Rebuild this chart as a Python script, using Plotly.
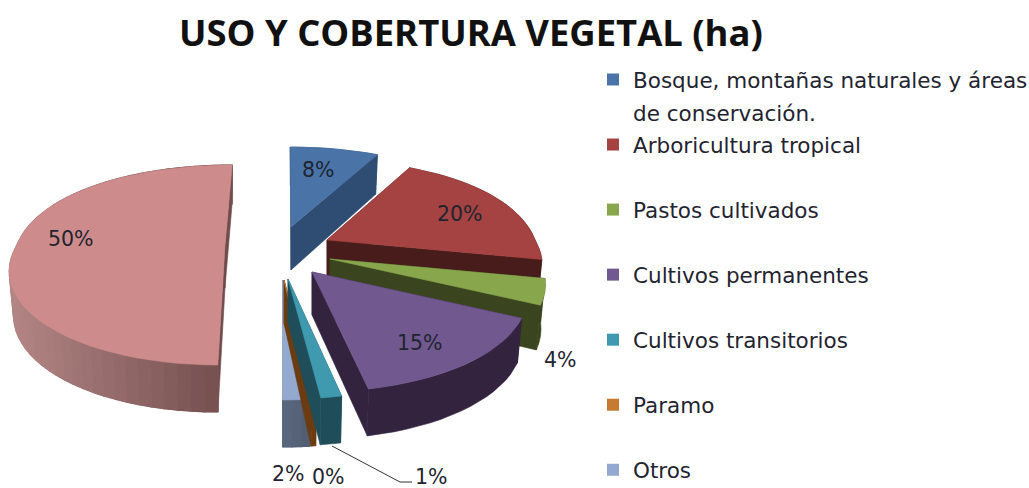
import math
import plotly.graph_objects as go

TITLE = "USO Y COBERTURA VEGETAL (ha)"
CATEGORIES = ["Bosque, montañas naturales y áreas", "Arboricultura tropical", "Pastos cultivados",
              "Cultivos permanentes", "Cultivos transitorios", "Paramo", "Otros"]
LEGEND_SECOND_LINE = "de conservación."
VALUES = [8.0, 20.0, 4.0, 14.7, 1.3, 0.3, 1.7]
UNLISTED_VALUE = 50.0

TOP_COLORS = ["#4a74a8", "#a54342", "#88a74c", "#71588f", "#3f9ab0", "#c77b30", "#93a9cf", "#cd8c8b"]
SIDE_LEFT = ["#2f4d73", "#481c1a", "#3a451f", "#33233f", "#1f4d5a", "#6b3c12", "#5a6880", "#b38685"]
SIDE_RIGHT = ["#2f4d73", "#481c1a", "#3a451f", "#33233f", "#1f4d5a", "#6b3c12", "#515c70", "#714c4c"]

# layout of the exploded slices (page pixels)
APEX = [(291, 227), (327, 240), (330, 259), (312, 272), (288, 279), (284, 280), (283, 280), (225, 245)]
LABEL_POS = [(318, 170), (460, 214), (560, 360), (420, 343), (431, 477), (328, 477), (288, 474), (71, 239)]
RX, RY, K, KX, VANISH_X = 208.0, 100.0, 0.2, 0.12, 285.0
K_FRONT, K_BACK = 0.25, 0.15

all_values = VALUES + [UNLISTED_VALUE]
total = sum(all_values)


def mix(a, b, t):
    ca = [int(a[i:i + 2], 16) for i in (1, 3, 5)]
    cb = [int(b[i:i + 2], 16) for i in (1, 3, 5)]
    return "#%02x%02x%02x" % tuple(round(p + (q - p) * t) for p, q in zip(ca, cb))


def pt(apex, theta, r=1.0, low=False):
    yw = -math.cos(theta) * r
    kx = K_FRONT if yw > 0 else K_BACK
    dx = RX * math.sin(theta) * r * (1 + kx * yw) + (apex[0] - VANISH_X) * KX * yw
    dy = RY * yw * (1 + K * yw)
    if low:
        return apex[0] + dx * 0.98, apex[1] + dy + 43 + 4 * yw
    return apex[0] + dx, apex[1] + dy


fig = go.Figure()


def poly(points, color, width=0.6):
    fig.add_trace(go.Scatter(x=[p[0] for p in points] + [points[0][0]],
                             y=[p[1] for p in points] + [points[0][1]],
                             mode="lines", fill="toself", fillcolor=color,
                             line=dict(color=color, width=width),
                             showlegend=False, hoverinfo="skip"))


bounds = []
acc = 0.0
for v in all_values:
    bounds.append((acc / total * 2 * math.pi, (acc + v) / total * 2 * math.pi))
    acc += v

# painter's order: big slice, then back to front
for i in [7, 0, 1, 2, 6, 5, 4, 3]:
    a0, a1 = bounds[i]
    apex = APEX[i]
    n = max(3, int((a1 - a0) / math.radians(3)))
    angles = [a0 + (a1 - a0) * j / n for j in range(n + 1)]
    # cut faces
    for a in (a0, a1):
        poly([pt(apex, a, 0), pt(apex, a), pt(apex, a, low=True), pt(apex, a, 0, low=True)],
             SIDE_LEFT[i] if i != 7 else SIDE_RIGHT[i])
    # outer rim: a single band, then left-to-right shading where the colour varies
    top_pts = [pt(apex, a) for a in angles]
    low_pts = [pt(apex, a, low=True) for a in angles]
    poly(top_pts + low_pts[::-1], mix(SIDE_LEFT[i], SIDE_RIGHT[i], 0.5))
    if SIDE_LEFT[i] != SIDE_RIGHT[i]:
        xmin = min(p[0] for p in top_pts)
        xmax = max(p[0] for p in top_pts)
        for j in range(n):
            t = ((top_pts[j][0] + top_pts[j + 1][0]) / 2 - xmin) / max(xmax - xmin, 1)
            c = mix(SIDE_LEFT[i], SIDE_RIGHT[i], t)
            poly([top_pts[j], top_pts[j + 1], low_pts[j + 1], low_pts[j]], c, width=1.2)
    # top surface
    poly([pt(apex, 0, 0)] + top_pts, TOP_COLORS[i])

# leader line of the 1% label
fig.add_trace(go.Scatter(x=[332, 400, 412], y=[446, 482, 482], mode="lines",
                         line=dict(color="#333333", width=1), showlegend=False, hoverinfo="skip"))

# legend entries
for i, name in enumerate(CATEGORIES):
    fig.add_trace(go.Scatter(x=[None], y=[None], mode="markers", name=name, legendgroup=f"g{i}",
                             marker=dict(symbol="square", size=16, color=TOP_COLORS[i])))

FONT = "DejaVu Sans, sans-serif"
annotations = [dict(x=x, y=y, text=f"{v:.0f}%", showarrow=False, xref="x", yref="y",
                    font=dict(family=FONT, size=20.5, color="#1f2430"))
               for (x, y), v in zip(LABEL_POS, all_values)]
annotations.append(dict(x=631, y=113, text=LEGEND_SECOND_LINE, showarrow=False, xref="x", yref="y",
                        xanchor="left", font=dict(family=FONT, size=21.5, color="#1f2430")))
annotations.append(dict(x=471, y=32, text=f"<b>{TITLE}</b>", showarrow=False, xref="x", yref="y",
                        font=dict(family="Open Sans, sans-serif", size=36.4, color="#111111")))

fig.update_layout(
    width=1029, height=488, margin=dict(l=0, r=0, t=0, b=0, autoexpand=False),
    paper_bgcolor="white", plot_bgcolor="white",
    xaxis=dict(range=[0, 1029], visible=False, domain=[0, 1], fixedrange=True),
    yaxis=dict(range=[488, 0], visible=False, domain=[0, 1], fixedrange=True),
    legend=dict(x=593 / 1029, y=1 - 59 / 488, xanchor="left", yanchor="top", tracegroupgap=34.1,
                font=dict(family=FONT, size=21.5, color="#1f2430"), itemsizing="constant",
                bgcolor="rgba(0,0,0,0)"),
    annotations=annotations,
)
fig.write_html("out.html", config=dict(displayModeBar=False),
               post_script="document.body.style.margin='0';document.body.style.overflow='hidden';")
